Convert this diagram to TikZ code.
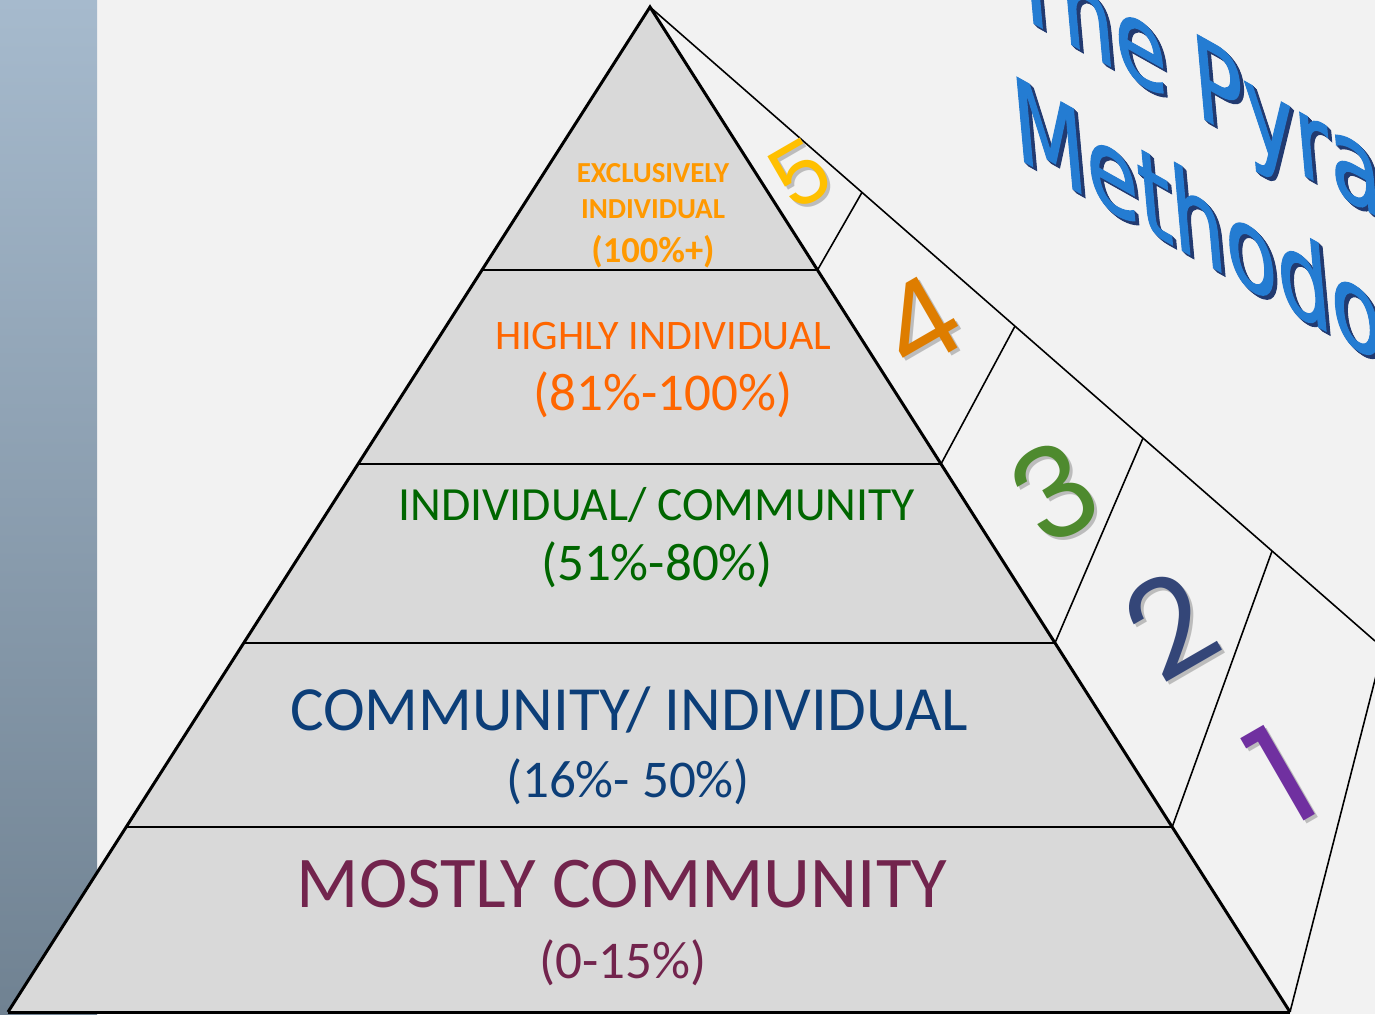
\documentclass[tikz,border=0pt]{standalone}
\usepackage{fontspec}
\setmainfont{Carlito}
\newfontfamily\numfont{Poppins}
\newfontfamily\titlefont[FakeBold=1.2]{DejaVu Sans}
\usetikzlibrary{calc}
\definecolor{bgpaper}{RGB}{242,242,242}
\definecolor{pyrfill}{RGB}{217,217,217}
\definecolor{stripetop}{RGB}{166,186,205}
\definecolor{stripebot}{RGB}{112,130,146}
\definecolor{cTop}{RGB}{255,153,0}
\definecolor{cHigh}{RGB}{255,102,0}
\definecolor{cGreen}{RGB}{0,102,0}
\definecolor{cBlue}{RGB}{12,62,120}
\definecolor{cMaroon}{RGB}{114,36,77}
\definecolor{dFive}{RGB}{255,192,0}
\definecolor{dFour}{RGB}{222,125,0}
\definecolor{dThree}{RGB}{78,138,46}
\definecolor{dTwo}{RGB}{52,70,120}
\definecolor{dOne}{RGB}{112,48,160}
\definecolor{titleblue}{RGB}{36,124,210}
\definecolor{titledark}{RGB}{34,58,112}
\tikzset{
  edgeline/.style={line width=1.7pt, black},
  layerline/.style={line width=1.3pt, black},
  bandline/.style={line width=0.9pt, black},
  lbl/.style={inner sep=0pt, anchor=base},
  digit/.style={inner sep=0pt, anchor=center, rotate=30},
  titletext/.style={inner sep=0pt, anchor=base west,
    font=\titlefont\fontsize{66}{66}\selectfont,
    cm={0.73,-0.41,-0.09,1,(0,0)}}
}
\begin{document}
\begin{tikzpicture}[x=0.02cm,y=-0.02cm]
\useasboundingbox (0,0) rectangle (1375,1014);
\clip (0,0) rectangle (1375,1014);
% background
\fill[bgpaper] (0,0) rectangle (1375,1014);
\shade[top color=stripetop, bottom color=stripebot] (0,0) rectangle (97,1014);
% key points
\coordinate (A) at (650,7);
\coordinate (BL) at (8,1012);
\coordinate (BR) at (1290,1012);
\coordinate (OE) at (1375,641);
% side band
\draw[bandline] (A) -- (OE);
\draw[bandline] ($(A)!0.2617!(BR)$) -- ($(A)!0.2924!(OE)$);
\draw[bandline] ($(A)!0.4547!(BR)$) -- ($(A)!0.5034!(OE)$);
\draw[bandline] ($(A)!0.6328!(BR)$) -- ($(A)!0.6800!(OE)$);
\draw[bandline] ($(A)!0.8159!(BR)$) -- ($(A)!0.8580!(OE)$);
\coordinate (LE) at (1400,582);
\draw[bandline] (BR) -- (LE);
% pyramid
\fill[pyrfill] (A) -- (BR) -- (BL) -- cycle;
\foreach \f in {0.2617,0.4547,0.6328,0.8159}
  \draw[layerline] ($(A)!\f!(BL)$) -- ($(A)!\f!(BR)$);
\draw[edgeline, line join=miter] (BL) -- (A) -- (BR);
\draw[edgeline] (BL) -- (BR);
% layer labels
\node[lbl, text=cTop, font=\bfseries\fontsize{16.5}{18}\selectfont] (t5a) at (653,182) {EXCLUSIVELY};
\node[lbl, text=cTop, font=\bfseries\fontsize{16.5}{18}\selectfont] (t5b) at (653,218) {INDIVIDUAL};
\node[lbl, text=cTop, font=\bfseries\fontsize{20.8}{22}\selectfont] (t5c) at (653,262) {(100\%+)};
\node[lbl, text=cHigh, font=\fontsize{23.9}{26}\selectfont] (t4a) at (663,349) {HIGHLY INDIVIDUAL};
\node[lbl, text=cHigh, font=\fontsize{30.2}{32}\selectfont] (t4b) at (663,410) {(81\%-100\%)};
\node[lbl, text=cGreen, font=\fontsize{27.1}{30}\selectfont] (t3a) at (657,520) {INDIVIDUAL/ COMMUNITY};
\node[lbl, text=cGreen, font=\fontsize{30.2}{32}\selectfont] (t3b) at (657,580) {(51\%-80\%)};
\node[lbl, text=cBlue, font=\fontsize{35.8}{38}\selectfont] (t2a) at (629,730) {COMMUNITY/ INDIVIDUAL};
\node[lbl, text=cBlue, font=\fontsize{30.2}{32}\selectfont] (t2b) at (628,797) {(16\%- 50\%)};
\node[lbl, text=cMaroon, font=\fontsize{41.5}{44}\selectfont] (t1a) at (622,907) {MOSTLY COMMUNITY};
\node[lbl, text=cMaroon, font=\fontsize{30.2}{32}\selectfont] (t1b) at (623,978) {(0-15\%)};
% band numbers
\foreach \d/\x/\y/\s/\c in {5/800/174/49/dFive, 4/919/323/65/dFour, 3/1055/492/72/dThree, 2/1170/625/76/dTwo, 1/1281/775/81/dOne}{
  \node[digit, text=black, opacity=0.22, font=\numfont\fontsize{\s}{\s}\selectfont] at (\x+3,\y+3) {\d};
  \node[digit, text=\c, font=\numfont\fontsize{\s}{\s}\selectfont] (n\d) at (\x,\y) {\d};
}
% title
\foreach \o in {4,3,2,1}{
  \begin{scope}[shift={(1012+\o,11+\o)}]
    \node[titletext, text=titledark] at (0,0) {The Pyramid};
  \end{scope}
  \begin{scope}[shift={(1016+\o,157+\o)}]
    \node[titletext, text=titledark] at (0,0) {Methodology};
  \end{scope}
}
\begin{scope}[shift={(1012,11)}]
  \node[titletext, text=titleblue] (title1) at (0,0) {The Pyramid};
\end{scope}
\begin{scope}[shift={(1016,157)}]
  \node[titletext, text=titleblue] (title2) at (0,0) {Methodology};
\end{scope}
\end{tikzpicture}
\end{document}
